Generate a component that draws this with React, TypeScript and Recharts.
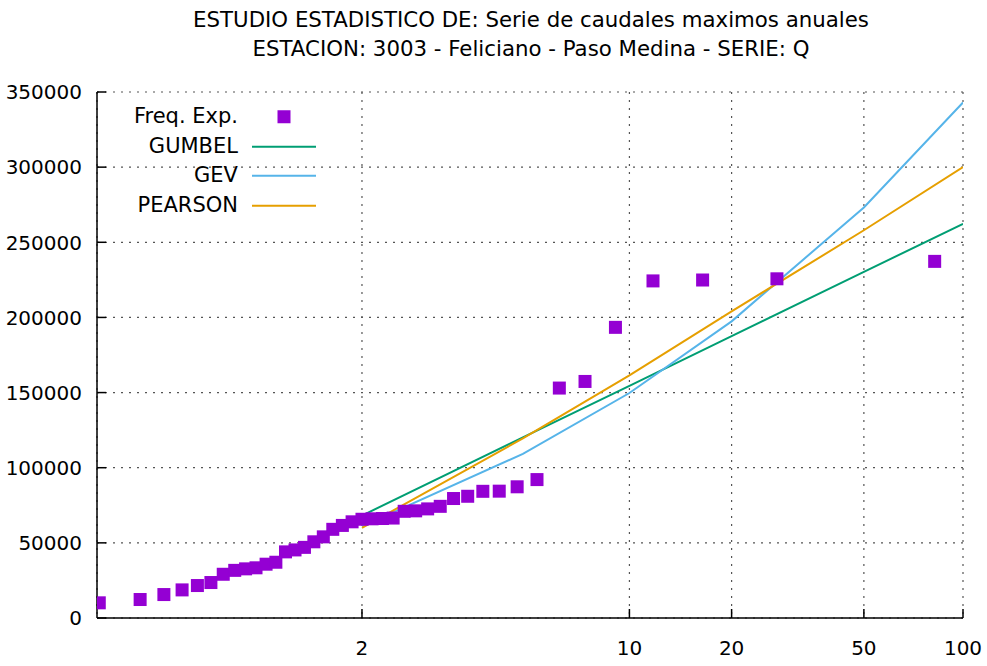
import React from 'react';
import { ComposedChart, Scatter, Line, XAxis, YAxis, CartesianGrid } from 'recharts';

// Observed annual maximum flows (ascending) and their plotted return periods
const obsReturnPeriod = [1.0123, 1.038, 1.0649, 1.0933, 1.1233, 1.1549, 1.1884, 1.2239, 1.2615, 1.3016, 1.3443, 1.3898, 1.4386, 1.4909, 1.5472, 1.6078, 1.6735, 1.7447, 1.8222, 1.907, 2.0, 2.1026, 2.2162, 2.3429, 2.4848, 2.6452, 2.8276, 3.037, 3.28, 3.5652, 3.9048, 4.3158, 4.8235, 5.4667, 6.3077, 7.4545, 9.1111, 11.714, 16.4, 27.333, 82];
const obsFlow = [10100, 12300, 15600, 18700, 21600, 23600, 29100, 31700, 32700, 33400, 35800, 37100, 44000, 45300, 47000, 50700, 54000, 59000, 61600, 64000, 65700, 66000, 66200, 66500, 71000, 71300, 72600, 74300, 79500, 81000, 84300, 84400, 87300, 92100, 153000, 157400, 193400, 224300, 224900, 225700, 237300];

// Fitted distributions
const fitReturnPeriod = [2, 5, 10, 20, 50, 100];
const gumbelFlow = [68150, 120200, 154500, 187500, 230300, 262300];
const gevFlow = [61000, 109200, 149700, 197400, 273200, 343000];
const pearsonFlow = [60000, 119500, 161500, 204000, 258000, 300000];

// Axis ticks
const xTickReturnPeriods = [2, 10, 20, 50, 100];
const xTickLabels = ['2', '10', '20', '50', '100'];
const yTicks = [0, 50000, 100000, 150000, 200000, 250000, 300000, 350000];

const titleLines = [
  'ESTUDIO ESTADISTICO DE: Serie de caudales maximos anuales',
  'ESTACION: 3003 - Feliciano - Paso Medina - SERIE: Q',
];

const COLORS = { obs: '#9400D3', gumbel: '#009E73', gev: '#56B4E9', pearson: '#E69F00' };
const FONT = 'DejaVu Sans, Verdana, sans-serif';
const FS = 20;

// Gumbel reduced variate (probability paper axis)
const gv = (T: number) => -Math.log(-Math.log(1 - 1 / T));

const obsData = obsReturnPeriod.map((t, i) => ({ x: gv(t), q: obsFlow[i] }));
const mk = (arr: number[]) => fitReturnPeriod.map((t, i) => ({ x: gv(t), q: arr[i] }));
const gumbelData = mk(gumbelFlow);
const gevData = mk(gevFlow);
const pearsonData = mk(pearsonFlow);
const xTicks = xTickReturnPeriods.map(gv);
const labelFor = (v: number) => {
  const idx = xTicks.findIndex((t) => Math.abs(t - v) < 1e-6);
  return idx >= 0 ? xTickLabels[idx] : '';
};

const legendItems = [
  { name: 'Freq. Exp.', color: COLORS.obs, kind: 'square' },
  { name: 'GUMBEL', color: COLORS.gumbel, kind: 'line' },
  { name: 'GEV', color: COLORS.gev, kind: 'line' },
  { name: 'PEARSON', color: COLORS.pearson, kind: 'line' },
];

const TICK_LEN = 9;

const BottomTick = (props: any) => {
  const { x, y, payload } = props;
  return (
    <g>
      <line x1={x} x2={x} y1={y} y2={y - TICK_LEN} stroke="#000" strokeWidth={1.5} />
      <text x={x} y={y + 37} textAnchor="middle" fontFamily={FONT} fontSize={FS} fill="#000">
        {labelFor(payload.value)}
      </text>
    </g>
  );
};

const TopTick = (props: any) => {
  const { x, y } = props;
  return <line x1={x} x2={x} y1={y} y2={y + TICK_LEN} stroke="#000" strokeWidth={1.5} />;
};

const LeftTick = (props: any) => {
  const { x, y, payload } = props;
  return (
    <g>
      <line x1={x} x2={x + TICK_LEN} y1={y} y2={y} stroke="#000" strokeWidth={1.5} />
      <text x={x - 15} y={y + 7.3} textAnchor="end" fontFamily={FONT} fontSize={FS} fill="#000">
        {payload.value}
      </text>
    </g>
  );
};

const RightTick = (props: any) => {
  const { x, y } = props;
  return <line x1={x} x2={x - TICK_LEN} y1={y} y2={y} stroke="#000" strokeWidth={1.5} />;
};

const SquareDot = (props: any) => {
  const { cx, cy } = props;
  if (cx == null || cy == null) return null;
  return <rect x={cx - 6.5} y={cy - 6.5} width={13} height={13} fill={COLORS.obs} />;
};

const LegendBox = () => (
  <div
    style={{
      position: 'absolute',
      left: 100,
      top: 102.25,
      fontFamily: FONT,
      fontSize: 21,
      color: '#000',
      zIndex: 2,
      pointerEvents: 'none',
    }}
  >
    {legendItems.map((it) => (
      <div key={it.name} style={{ display: 'flex', alignItems: 'center', height: 29.5 }}>
        <span style={{ width: 138, textAlign: 'right', whiteSpace: 'nowrap', lineHeight: '29.5px' }}>{it.name}</span>
        <svg width={78} height={29.5} style={{ display: 'block' }}>
          {it.kind === 'square' ? (
            <rect x={14 + 32 - 6.5} y={14.75 - 6.5} width={13} height={13} fill={it.color} />
          ) : (
            <line x1={14} x2={78} y1={14.75} y2={14.75} stroke={it.color} strokeWidth={2} />
          )}
        </svg>
      </div>
    ))}
  </div>
);

export default function App() {
  return (
    <div style={{ position: 'absolute', left: 0, top: 0, width: 987, height: 666, background: '#fff', fontFamily: FONT }}>
      <div
        style={{
          position: 'absolute',
          left: 0,
          top: 5,
          width: 1062,
          textAlign: 'center',
          fontSize: 21.3,
          lineHeight: '29px',
          color: '#000',
          zIndex: 2,
          pointerEvents: 'none',
        }}
      >
        {titleLines.map((l) => (
          <div key={l}>{l}</div>
        ))}
      </div>
      <ComposedChart width={987} height={666} margin={{ top: 92, right: 24, bottom: 8, left: 0 }}>
        <CartesianGrid stroke="#555" strokeWidth={1.2} strokeDasharray="2 6" xAxisId={0} yAxisId={0} />
        <XAxis
          xAxisId={0}
          type="number"
          dataKey="x"
          domain={[-1.5, gv(100)]}
          allowDataOverflow
          ticks={xTicks}
          interval={0}
          height={40}
          tickSize={0}
          tickMargin={0}
          tickLine={false}
          axisLine={{ stroke: '#000', strokeWidth: 1.5 }}
          tick={<BottomTick />}
        />
        <XAxis
          xAxisId="top"
          orientation="top"
          type="number"
          dataKey="x"
          domain={[-1.5, gv(100)]}
          allowDataOverflow
          ticks={xTicks}
          interval={0}
          height={0}
          tickSize={0}
          tickMargin={0}
          tickLine={false}
          axisLine={{ stroke: '#000', strokeWidth: 1.5 }}
          tick={<TopTick />}
        />
        <YAxis
          yAxisId={0}
          type="number"
          domain={[0, 350000]}
          ticks={yTicks}
          interval={0}
          width={97}
          tickSize={0}
          tickMargin={0}
          tickLine={false}
          axisLine={{ stroke: '#000', strokeWidth: 1.5 }}
          tick={<LeftTick />}
        />
        <YAxis
          yAxisId="right"
          orientation="right"
          type="number"
          domain={[0, 350000]}
          ticks={yTicks}
          interval={0}
          width={0}
          tickSize={0}
          tickMargin={0}
          tickLine={false}
          axisLine={{ stroke: '#000', strokeWidth: 1.5 }}
          tick={<RightTick />}
        />
        <Scatter
          name="Freq. Exp."
          data={obsData}
          dataKey="q"
          xAxisId={0}
          yAxisId={0}
          fill={COLORS.obs}
          shape={<SquareDot />}
          isAnimationActive={false}
        />
        <Line
          name="GUMBEL"
          data={gumbelData}
          dataKey="q"
          xAxisId={0}
          yAxisId={0}
          type="linear"
          stroke={COLORS.gumbel}
          strokeWidth={2}
          dot={false}
          activeDot={false}
          isAnimationActive={false}
        />
        <Line
          name="GEV"
          data={gevData}
          dataKey="q"
          xAxisId={0}
          yAxisId={0}
          type="linear"
          stroke={COLORS.gev}
          strokeWidth={2}
          dot={false}
          activeDot={false}
          isAnimationActive={false}
        />
        <Line
          name="PEARSON"
          data={pearsonData}
          dataKey="q"
          xAxisId={0}
          yAxisId={0}
          type="linear"
          stroke={COLORS.pearson}
          strokeWidth={2}
          dot={false}
          activeDot={false}
          isAnimationActive={false}
        />
      </ComposedChart>
      <LegendBox />
    </div>
  );
}
